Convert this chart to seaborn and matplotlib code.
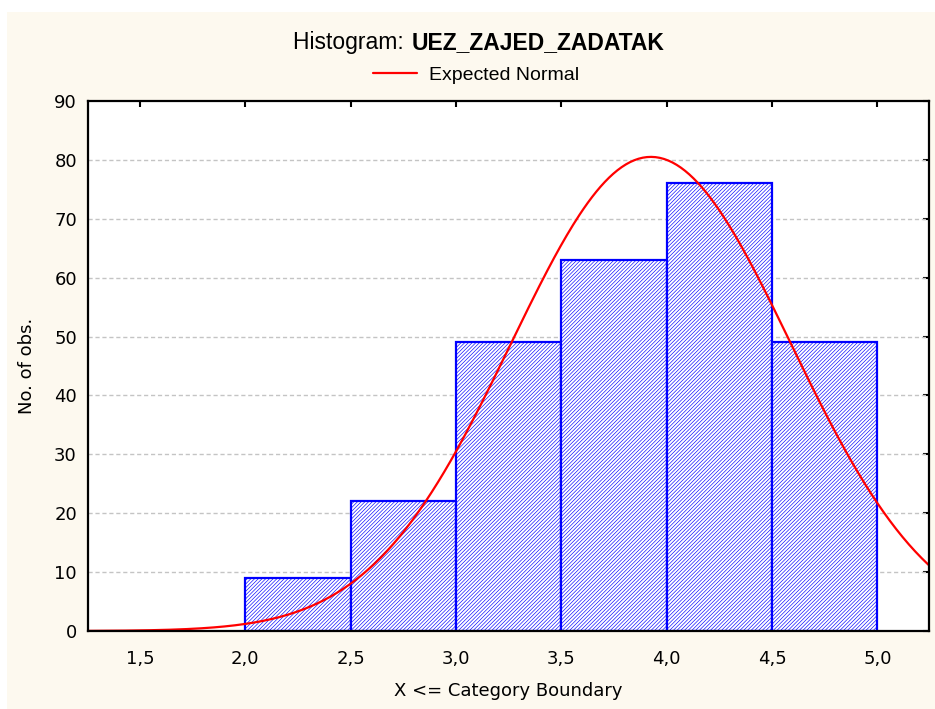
import numpy as np
import pandas as pd
import seaborn as sns
import matplotlib.pyplot as plt
from matplotlib.patches import Rectangle
from matplotlib.ticker import FuncFormatter

# ==========================
# DATOS
# ==========================

bin_edges = [2.0, 2.5, 3.0, 3.5, 4.0, 4.5, 5.0]
counts = [9, 22, 49, 63, 76, 49]

# parametros de la normal esperada
normal_mean = 3.925
normal_sd = 0.664

y_ticks = [0, 10, 20, 30, 40, 50, 60, 70, 80, 90]
x_ticks = [1.5, 2.0, 2.5, 3.0, 3.5, 4.0, 4.5, 5.0]

title_normal = "Histogram: "
title_bold = "UEZ_ZAJED_ZADATAK"
legend_label = "Expected Normal"
x_label = "X <= Category Boundary"
y_label = "No. of obs."

# ==========================
# ESTILO
# ==========================

sns.set_style("white")
plt.rcParams["font.family"] = ["DejaVu Sans"]
plt.rcParams["text.color"] = "black"
plt.rcParams["axes.labelcolor"] = "black"
plt.rcParams["hatch.linewidth"] = 0.45
plt.rcParams["hatch.color"] = "#0000ff"

cream = "#fdf9ef"
title_font = ["Liberation Sans", "DejaVu Sans"]

fig = plt.figure(figsize=(9.35, 7.09), dpi=100, facecolor="white")
fig.patches.append(Rectangle((7 / 935, 0), 1, 1 - 12 / 709, transform=fig.transFigure,
                             facecolor=cream, edgecolor="none", zorder=-10))
ax = fig.add_axes([88 / 935, 1 - 631 / 709, (929 - 88) / 935, (631 - 101) / 709])
ax.set_facecolor("white")

# ==========================
# HISTOGRAMA
# ==========================

mids = [(a + b) / 2 for a, b in zip(bin_edges[:-1], bin_edges[1:])]
df = pd.DataFrame({"x": mids, "n": counts})

sns.histplot(data=df, x="x", weights="n", bins=bin_edges, ax=ax,
             color="white", edgecolor="#0000ff", linewidth=1.6, alpha=1, zorder=2)
for p in ax.patches:
    p.set_hatch("/////////")
    p.set_facecolor("white")
    p.set_edgecolor("#0000ff")

# curva normal esperada
n_total = sum(counts)
width = bin_edges[1] - bin_edges[0]
xs = np.linspace(1.25, 5.25, 400)
ys = n_total * width / (normal_sd * np.sqrt(2 * np.pi)) * np.exp(-0.5 * ((xs - normal_mean) / normal_sd) ** 2)
sns.lineplot(x=xs, y=ys, ax=ax, color="#ff0000", linewidth=1.6, label=legend_label, zorder=3)

# ==========================
# EJES
# ==========================

ax.set_xlim(1.253, 5.245)
ax.set_ylim(0, 90)
ax.set_xticks(x_ticks)
ax.set_yticks(y_ticks)
ax.xaxis.set_major_formatter(FuncFormatter(lambda v, pos: f"{v:.1f}".replace(".", ",")))
ax.tick_params(direction="in", length=4, width=1.5, top=True, right=True,
               labelsize=13, colors="black", pad=14)
ax.tick_params(axis="y", pad=8)
for t in y_ticks[1:-1]:
    ax.axhline(t, color="#c4c4c4", linewidth=1, linestyle=(0, (3, 2)), zorder=1)
for s in ax.spines.values():
    s.set_color("black")
    s.set_linewidth(1.6)
    s.set_zorder(5)

ax.set_xlabel(x_label, fontsize=13, labelpad=10)
ax.set_ylabel(y_label, fontsize=13, labelpad=13)

leg = ax.legend(loc="center", bbox_to_anchor=(476 / 935, 1 - 75 / 709), bbox_transform=fig.transFigure,
                frameon=False, handlelength=2.3, handletextpad=0.6,
                prop={"family": title_font, "size": 14})

fig.text(410 / 935, 1 - 43 / 709, title_normal, ha="right", va="center",
         fontsize=16.5, family=title_font)
fig.text(412 / 935, 1 - 43 / 709, title_bold, ha="left", va="center",
         fontsize=16.5, fontweight="bold", family=title_font)

fig.savefig("out.png", dpi=100, facecolor=fig.get_facecolor())
